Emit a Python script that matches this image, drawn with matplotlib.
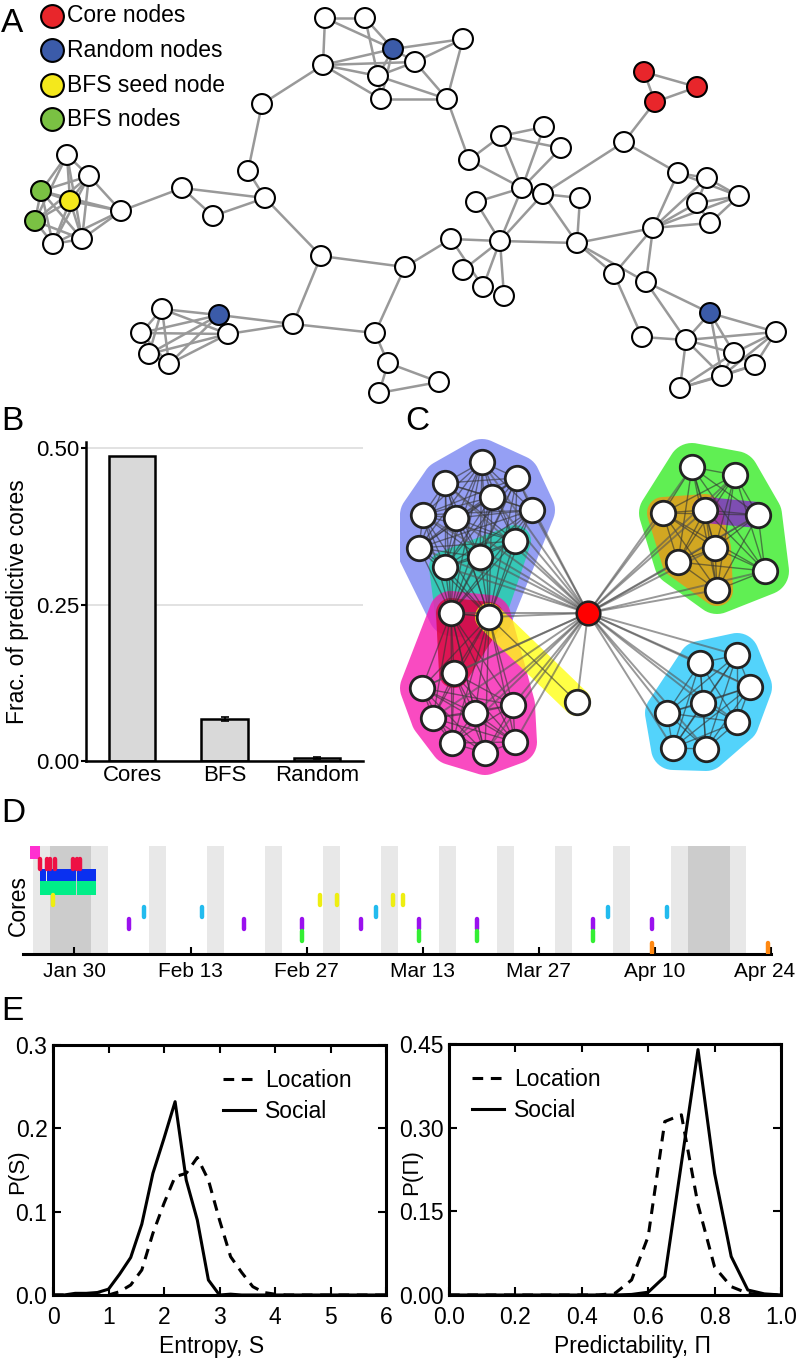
import numpy as np
import matplotlib
matplotlib.use("Agg")
import matplotlib.pyplot as plt
import matplotlib.transforms as mtransforms
from matplotlib.patches import Polygon
from itertools import combinations

plt.rcParams['font.family'] = ['Liberation Sans', 'DejaVu Sans']

# ---------------- data ----------------
# A: network nodes (positions in picture pixels)
a_x = [325, 365, 393, 463, 323, 378, 415, 381, 447, 262,
       248, 265, 182, 213, 121, 67, 89, 41, 70, 35,
       53, 82, 321, 405, 293, 375, 388, 439, 379, 162,
       219, 141, 228, 149, 169, 469, 501, 544, 561, 522,
       543, 580, 476, 451, 500, 577, 463, 483, 504, 614,
       646, 624, 644, 697, 655, 678, 707, 739, 697, 710,
       653, 710, 642, 686, 776, 734, 755, 722, 680]
a_y = [18, 18, 49, 39, 65, 76, 62, 99, 99, 104,
       171, 198, 188, 216, 211, 155, 176, 191, 201, 221,
       244, 239, 256, 267, 324, 333, 363, 382, 393, 309,
       315, 333, 334, 354, 364, 160, 136, 127, 148, 188,
       194, 198, 202, 239, 241, 243, 270, 287, 296, 274,
       282, 142, 72, 87, 102, 173, 178, 196, 203, 223,
       228, 313, 337, 340, 332, 353, 365, 376, 388]
a_edges = [(0, 1), (0, 4), (0, 2), (1, 2), (1, 5), (4, 2), (4, 5), (4, 7), (4, 6), (2, 6),
           (2, 3), (2, 5), (2, 7), (5, 6), (5, 7), (6, 3), (6, 8), (7, 8), (3, 8), (5, 8),
           (4, 9), (9, 10), (10, 11), (11, 12), (11, 13), (12, 13), (12, 14), (11, 22),
           (22, 23), (22, 24), (24, 25), (23, 25), (25, 26), (26, 27), (26, 28), (27, 28),
           (30, 24), (32, 24), (23, 43), (8, 35),
           (35, 36), (35, 39), (36, 37), (36, 38), (36, 39), (37, 39), (38, 39), (39, 40),
           (40, 41), (42, 39), (42, 44), (39, 44), (40, 44), (40, 45), (41, 45), (44, 45),
           (43, 44), (46, 44), (47, 44), (48, 44), (43, 47), (51, 40),
           (45, 49), (45, 50), (45, 60), (49, 60), (50, 60), (49, 62), (50, 61), (50, 63),
           (52, 53), (52, 54), (53, 54), (54, 51), (51, 55),
           (55, 56), (55, 57), (55, 60), (56, 57), (56, 60), (57, 58), (57, 59), (57, 60),
           (58, 60), (59, 60), (58, 59), (56, 58),
           (61, 63), (61, 64), (61, 65), (61, 67), (62, 63), (63, 64), (63, 65), (63, 67),
           (63, 68), (64, 65), (64, 66), (64, 67), (65, 66), (65, 67), (66, 67), (67, 68),
           (66, 68), (65, 68)]
a_cliques = [list(range(14, 22)), list(range(29, 35))]
a_missing = [(14, 15), (14, 19), (15, 20)]
core_idx = [52, 53, 54]
random_idx = [2, 30, 61]
seed_idx = [18]
bfs_idx = [17, 19]
legend_labels = ['Core nodes', 'Random nodes', 'BFS seed node', 'BFS nodes']
legend_colors = ['#e8262b', '#3b5ba9', '#f4e81c', '#7ac143']

# B: bars
b_cats = ['Cores', 'BFS', 'Random']
b_vals = [0.487, 0.067, 0.005]
b_errs = [0.0, 0.003, 0.0015]

# C: core network
c_x = [588, 482, 445, 517, 492, 423, 456, 532, 419, 515, 480, 445,
       451, 489, 454, 422, 433, 475, 513, 452, 485, 515, 577,
       692, 735, 663, 705, 758, 715, 678, 765, 717,
       700, 737, 750, 703, 667, 737, 673, 706]
c_y = [613, 462, 483, 478, 497, 515, 518, 510, 548, 541, 557, 567,
       613, 617, 673, 688, 718, 713, 705, 743, 753, 742, 702,
       467, 475, 513, 510, 515, 548, 562, 571, 590,
       663, 655, 687, 703, 713, 722, 748, 749]
c_groups = [list(range(1, 14)), list(range(12, 22)), list(range(23, 32)), list(range(32, 40))]
c_extra = [(13, 22)]
c_hulls = [(list(range(1, 14)), 23, '#5565ee', 0.62),
           ([9, 10, 11, 12, 13], 16, '#10d8a0', 0.72),
           ([12, 13, 14] + list(range(15, 22)), 22, '#f818b0', 0.78),
           ([12, 13, 14], 15, '#d4002a', 0.72),
           ([13, 22], 14, '#ffff10', 0.78),
           (list(range(23, 32)), 24, '#38ec28', 0.8),
           ([25, 26, 28, 29, 31], 16, '#ff8c10', 0.72),
           ([26, 27], 13, '#8a10d8', 0.72),
           (list(range(32, 40)), 22, '#28c8fa', 0.8)]

# D: core activity (days from Jan 30)
date_days = [0, 14, 28, 42, 56, 70, 84]
date_labels = ['Jan 30', 'Feb 13', 'Feb 27', 'Mar 13', 'Mar 27', 'Apr 10', 'Apr 24']
weekends = [-5, 2, 9, 16, 23, 30, 37, 44, 51, 58, 65, 72, 79]
holidays = [(-3, 2), (74, 79)]
row_colors = ['#ff30d0', '#ee1144', '#0a30f0', '#00ee88', '#eeee11',
              '#22bbee', '#9a11ee', '#33ee33', '#ff8811']
magenta_spans = [(-5.4, -4.1)]
blue_spans = [(-4.1, -3.42), (-3.36, -1.42), (-1.36, 0.22), (0.28, 1.58), (1.64, 2.55)]
spring_spans = [(-4.1, -1.42), (-1.38, 0.25), (0.29, 2.55)]
red_days = [-4.2, -3.26, -3.0, -2.4, -0.16, 0.36, 0.69]
yellow_days = [-2.6, 29.6, 31.7, 38.4, 39.6]
sky_days = [8.4, 15.4, 36.4, 64.4, 71.4]
purple_days = [6.6, 20.5, 27.5, 34.5, 41.5, 48.5, 62.5, 69.6]
green_days = [27.5, 41.5, 48.5, 62.5]
orange_days = [69.6, 83.6]

# E: distributions
s_grid = np.arange(0, 6.01, 0.2)
s_social = [0, 0, 0.002, 0.002, 0.003, 0.007, 0.025, 0.045, 0.085, 0.146, 0.188,
            0.232, 0.138, 0.09, 0.018, 0.0, 0.001, 0, 0, 0, 0,
            0, 0, 0, 0, 0, 0, 0, 0, 0, 0]
s_location = [0, 0, 0, 0, 0, 0, 0.004, 0.012, 0.03, 0.074, 0.11,
              0.142, 0.146, 0.165, 0.138, 0.09, 0.046, 0.027, 0.01, 0.003, 0.001,
              0, 0, 0, 0, 0, 0, 0, 0, 0, 0]
p_grid = np.arange(0, 1.001, 0.05)
p_social = [0, 0, 0, 0, 0, 0, 0, 0, 0, 0, 0, 0.001, 0.005, 0.033, 0.236,
            0.44, 0.218, 0.069, 0.009, 0.002, 0]
p_location = [0, 0, 0, 0, 0, 0, 0, 0, 0, 0, 0.003, 0.027, 0.105, 0.311, 0.323,
              0.162, 0.05, 0.015, 0.003, 0, 0]

# ---------------- figure ----------------
W, H = 796, 1364
fig = plt.figure(figsize=(W / 100, H / 100), dpi=100)


def box(x0, y0, x1, y1):
    return fig.add_axes([x0 / W, 1 - y1 / H, (x1 - x0) / W, (y1 - y0) / H])


def ftext(x, y, s, **kw):
    fig.text(x / W, 1 - y / H, s, **kw)


def hull(points):
    pts = sorted(set(points))
    def cross(o, a, b):
        return (a[0] - o[0]) * (b[1] - o[1]) - (a[1] - o[1]) * (b[0] - o[0])
    lower, upper = [], []
    for p in pts:
        while len(lower) >= 2 and cross(lower[-2], lower[-1], p) <= 0:
            lower.pop()
        lower.append(p)
    for p in reversed(pts):
        while len(upper) >= 2 and cross(upper[-2], upper[-1], p) <= 0:
            upper.pop()
        upper.append(p)
    return lower[:-1] + upper[:-1]


# A
axA = box(0, 0, W, 410)
axA.set_xlim(0, W)
axA.set_ylim(410, 0)
axA.axis('off')
all_edges = list(a_edges)
for cl in a_cliques:
    all_edges += [e for e in combinations(cl, 2) if e not in a_missing]
for i, j in all_edges:
    axA.plot([a_x[i], a_x[j]], [a_y[i], a_y[j]], color='#999999', lw=1.8, zorder=1,
             solid_capstyle='round')
a_col = ['white'] * len(a_x)
for idx, c in zip([core_idx, random_idx, seed_idx, bfs_idx], legend_colors):
    for i in idx:
        a_col[i] = c
axA.scatter(a_x, a_y, s=205, c=a_col, edgecolors='black', linewidths=1.5, zorder=3)
for k, (lab, c) in enumerate(zip(legend_labels, legend_colors)):
    yy = 16 + k * 34.5
    axA.scatter([52], [yy], s=270, c=c, edgecolors='black', linewidths=1.5, zorder=3)
    axA.text(67, yy, lab, fontsize=16.5, va='center', ha='left')

# B
axB = box(86, 442, 363, 761)
axB.bar(range(3), b_vals, width=0.5, color='#d9d9d9', edgecolor='black', linewidth=1.8,
        zorder=2)
axB.errorbar([1, 2], b_vals[1:], yerr=b_errs[1:], fmt='none', ecolor='black',
             elinewidth=1.2, capsize=3, capthick=1.2, zorder=3)
axB.set_xlim(-0.5, 2.5)
axB.set_ylim(0, 0.51)
axB.set_yticks([0, 0.25, 0.5])
axB.set_yticklabels(['0.00', '0.25', '0.50'])
axB.set_xticks(range(3))
axB.set_xticklabels(b_cats)
axB.yaxis.grid(True, color='#dddddd', lw=1.2)
axB.set_axisbelow(True)
for s in ['top', 'right']:
    axB.spines[s].set_visible(False)
for s in ['left', 'bottom']:
    axB.spines[s].set_linewidth(1.8)
axB.tick_params(axis='y', direction='out', length=3.5, width=1.5, pad=1, labelsize=16)
axB.tick_params(axis='x', length=0, pad=3, labelsize=16)
ftext(18, 602, 'Frac. of predictive cores', rotation=90, fontsize=16.5, ha='center', va='center')

# C
axC = box(400, 410, W, 790)
axC.set_xlim(400, W)
axC.set_ylim(790, 410)
axC.axis('off')
t = np.linspace(0, 2 * np.pi, 48, endpoint=False)
for members, pad, col, al in c_hulls:
    pts = [(c_x[i] + pad * np.cos(a), c_y[i] + pad * np.sin(a)) for i in members for a in t]
    axC.add_patch(Polygon(hull(pts), closed=True, fc=col, alpha=al, ec='none', zorder=1))
for g in c_groups:
    for i, j in combinations(g, 2):
        axC.plot([c_x[i], c_x[j]], [c_y[i], c_y[j]], color='#333333', lw=1.0, alpha=0.6, zorder=2)
for i, j in c_extra:
    axC.plot([c_x[i], c_x[j]], [c_y[i], c_y[j]], color='#333333', lw=1.0, alpha=0.6, zorder=2)
for j in range(1, len(c_x)):
    axC.plot([c_x[0], c_x[j]], [c_y[0], c_y[j]], color='#555555', lw=1.4, alpha=0.6, zorder=2)
axC.scatter(c_x[1:], c_y[1:], s=310, c='white', edgecolors='#222222', linewidths=2.0, zorder=3)
axC.scatter(c_x[:1], c_y[:1], s=290, c='#ff0000', edgecolors='#222222', linewidths=1.8, zorder=3)

# D
axD = box(23, 846, 771, 954)
axD.set_xlim(-6.2, 84)
axD.set_ylim(9, 0)
for d in weekends:
    axD.axvspan(d, d + 2, color='#e8e8e8', lw=0, zorder=0)
for a, b in holidays:
    axD.axvspan(a, b, color='#cccccc', lw=0, zorder=0)
for row, spans in [(0, magenta_spans), (2, blue_spans), (3, spring_spans)]:
    axD.broken_barh([(a, b - a) for a, b in spans], (row - 0.05, 1.15),
                    color=row_colors[row], lw=0, zorder=2)
for row, days in [(1, red_days), (4, yellow_days), (5, sky_days), (6, purple_days),
                  (7, green_days), (8, orange_days)]:
    for d in days:
        axD.plot([d, d], [row + 0.1, row + 0.9], color=row_colors[row], lw=3.2,
                 solid_capstyle='round', zorder=3)
axD.set_xticks(date_days)
axD.set_xticklabels(date_labels)
axD.set_yticks([])
for s in ['top', 'right', 'left']:
    axD.spines[s].set_visible(False)
axD.spines['bottom'].set_linewidth(2.2)
axD.tick_params(axis='x', direction='in', length=5, width=1.5, pad=6, labelsize=15)
last = axD.get_xticklabels()[-1]
last.set_transform(last.get_transform() +
                   mtransforms.ScaledTranslation(-6 / 100, 0, fig.dpi_scale_trans))
ftext(18, 906, 'Cores', rotation=90, fontsize=16.5, ha='center', va='center')

# E
axE1 = box(53, 1045, 386, 1295)
axE1.plot(s_grid, s_location, color='black', lw=2.2, ls='--', dashes=(3.5, 2.5), label='Location')
axE1.plot(s_grid, s_social, color='black', lw=2.2, label='Social')
axE1.set_xlim(0, 6)
axE1.set_ylim(0, 0.3)
axE1.set_xticks(range(7))
axE1.set_yticks([0, 0.1, 0.2, 0.3])
axE1.set_yticklabels(['0.0', '0.1', '0.2', '0.3'])

axE2 = box(449, 1044, 781, 1295)
axE2.plot(p_grid, p_location, color='black', lw=2.2, ls='--', dashes=(3.5, 2.5), label='Location')
axE2.plot(p_grid, p_social, color='black', lw=2.2, label='Social')
axE2.set_xlim(0, 1)
axE2.set_ylim(0, 0.45)
axE2.set_xticks([0, 0.2, 0.4, 0.6, 0.8, 1.0])
axE2.set_xticklabels(['0.0', '0.2', '0.4', '0.6', '0.8', '1.0'])
axE2.set_yticks([0, 0.15, 0.30, 0.45])
axE2.set_yticklabels(['0.00', '0.15', '0.30', '0.45'])

for ax, lx in [(axE1, 0.51), (axE2, 0.069)]:
    for s in ax.spines.values():
        s.set_linewidth(2.2)
    ax.tick_params(direction='in', top=True, right=True, length=6, width=1.5, labelsize=16.5)
    ax.tick_params(axis='x', pad=8)
    ax.tick_params(axis='y', pad=4)
    ax.legend(loc='upper left', bbox_to_anchor=(lx, 0.905), frameon=False, fontsize=16.5,
              borderpad=0, borderaxespad=0, handlelength=1.4, handletextpad=0.45,
              labelspacing=0.35)

ftext(18, 1172, 'P(S)', rotation=90, fontsize=16, ha='center', va='center')
ftext(412, 1172, 'P(Π)', rotation=90, fontsize=16, ha='center', va='center')
ftext(212, 1347, 'Entropy, S', fontsize=16.5, ha='center', va='center')
ftext(633, 1347, 'Predictability, Π', fontsize=16.5, ha='center', va='center')

# panel letters
for lab, x, y in [('A', 1, 23), ('B', 1, 422), ('C', 405, 422), ('D', 1, 814), ('E', 1, 1012)]:
    ftext(x, y, lab, fontsize=24, ha='left', va='center')

fig.savefig('out.png', dpi=100)
